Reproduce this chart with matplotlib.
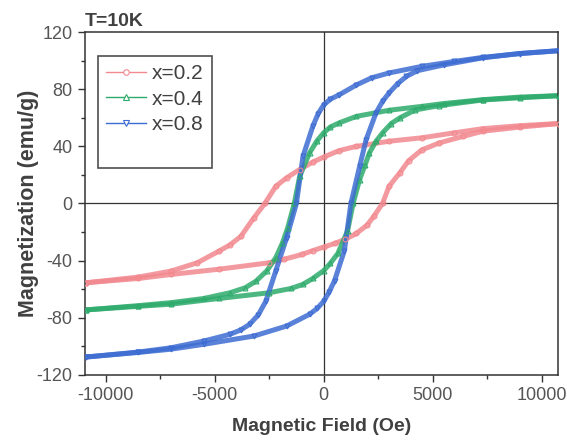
import numpy as np
import matplotlib
matplotlib.use("Agg")
import matplotlib.pyplot as plt
from matplotlib.lines import Line2D
from matplotlib.ticker import MultipleLocator

plt.rcParams['font.family'] = ['Liberation Sans', 'DejaVu Sans']
plt.rcParams['axes.unicode_minus'] = False

# hysteresis loops, field in Oe, magnetization in emu/g
# x=0.2
h_02_down = [10800, 9000, 7300, 6000, 4500, 3000, 1500, 700, 0, -500, -1100, -1700, -2200, -2700, -3200, -3800, -4300, -4800, -5800, -7000, -8500, -10900]
m_02_down = [56, 54.5, 52.4, 49.5, 46, 43.6, 40, 37, 32.5, 29, 23.8, 18, 12, 0, -10, -23, -29, -33.3, -41.5, -47.3, -51.5, -55.5]
h_02_up = [-10900, -8500, -7000, -4800, -2500, -1800, -1000, -500, 0, 500, 1000, 1500, 2000, 2300, 2700, 3000, 3500, 3900, 4500, 5300, 6400, 7300, 9000, 10800]
m_02_up = [-55.5, -52.5, -49.7, -46, -41.5, -39, -35.7, -33, -30.5, -28, -25, -21, -15, -9, 0, 12, 21.6, 30, 37.5, 42.4, 47, 50.6, 53.5, 56]

# x=0.4
h_04_down = [10800, 9000, 7300, 5500, 4500, 3000, 1500, 700, 300, 0, -300, -650, -1100, -1350, -1650, -1900, -2200, -2600, -3100, -3600, -4300, -5500, -7000, -8500, -10900]
m_04_down = [75.5, 74.5, 72.7, 70, 68, 65.3, 61, 56.4, 53.5, 49.5, 44, 35.4, 19, 0, -17, -28, -38, -47, -54.3, -59, -62.5, -66.5, -69.4, -71.5, -74.5]
h_04_up = [-10900, -8500, -7000, -4800, -2500, -1500, -950, -500, 0, 300, 650, 1100, 1350, 1650, 1900, 2100, 2400, 2700, 3100, 3500, 4200, 5300, 7300, 9000, 10800]
m_04_up = [-74.5, -72, -70.5, -66.5, -62.5, -59.5, -56.6, -52.5, -47, -42, -35, -19, 0, 16.8, 27, 35.5, 43.5, 49.4, 56, 60, 65.5, 68.5, 72.5, 74, 75.5]

# x=0.8
h_08_down = [10800, 9000, 7300, 6000, 4500, 3000, 2200, 1500, 700, 300, 0, -250, -500, -950, -1250, -1700, -2200, -2650, -3000, -3400, -3800, -4300, -5500, -7000, -8500, -10900]
m_08_down = [107, 105, 102.3, 99.5, 96, 91.4, 88, 83, 76, 73, 69, 63, 54, 33, 0, -24, -47.3, -68.3, -78, -84.6, -88.5, -91.6, -96.3, -101, -104, -107.5]
h_08_up = [-10900, -8500, -7000, -5500, -3200, -1700, -650, -300, 0, 250, 500, 950, 1250, 1650, 1950, 2400, 2700, 3000, 3400, 3800, 4300, 5500, 7300, 9000, 10800]
m_08_up = [-107.5, -104.3, -102, -98.6, -92.8, -85.8, -77.6, -73.5, -68.5, -62, -54, -33, 0, 26, 44.8, 63.4, 71.5, 77.4, 84, 89, 93, 97, 102, 105, 107]

labels = ['x=0.2', 'x=0.4', 'x=0.8']
colors = ['#f2898f', '#2eab6c', '#3d6cd2']
markers = ['o', '^', 'v']

loops = [
    (h_02_down, m_02_down, h_02_up, m_02_up),
    (h_04_down, m_04_down, h_04_up, m_04_up),
    (h_08_down, m_08_down, h_08_up, m_08_up),
]

fig = plt.figure(figsize=(5.67, 4.40), dpi=100)
ax = fig.add_axes([0.150, 0.148, 0.834, 0.779])

ax.axhline(0, color='#333333', lw=0.9, zorder=1)
ax.axvline(0, color='#333333', lw=0.9, zorder=1)

for (hd, md, hu, mu), c, mk in zip(loops, colors, markers):
    for h, m in [(hd, md), (hu, mu)]:
        ax.plot(h, m, color=c, lw=3.6, alpha=0.85, solid_capstyle='butt',
                solid_joinstyle='round', zorder=2)
        ax.plot(h, m, ls='none', marker=mk, ms=3.5, mfc='none', mec=c, mew=0.8, zorder=3)

ax.set_xlim(-10950, 10750)
ax.set_ylim(-120, 120)
ax.xaxis.set_major_locator(MultipleLocator(5000))
ax.xaxis.set_minor_locator(MultipleLocator(2500))
ax.yaxis.set_major_locator(MultipleLocator(40))
ax.yaxis.set_minor_locator(MultipleLocator(20))
ax.tick_params(which='major', direction='out', length=5, width=1, colors='#333333',
               labelcolor='#555555', labelsize=13, pad=4)
ax.tick_params(which='minor', direction='out', length=3, width=1, colors='#333333')
for s in ax.spines.values():
    s.set_color('#333333')
    s.set_linewidth(1.1)

ax.set_xlabel('Magnetic Field (Oe)', fontsize=14, fontweight='bold', color='#404040', labelpad=10)
ax.set_ylabel('Magnetization (emu/g)', fontsize=15.5, fontweight='bold', color='#404040', labelpad=-2)
ax.text(0.0, 1.005, 'T=10K', transform=ax.transAxes, ha='left', va='bottom',
        fontsize=14, fontweight='bold', color='#404040')

handles = [Line2D([], [], color=c, lw=1, marker=mk, ms=4, mfc='white', mec=c, mew=0.8)
           for c, mk in zip(colors, markers)]
handles.append(Line2D([], [], ls='none'))
leg = ax.legend(handles, labels + [' '], loc='upper left', bbox_to_anchor=(0.027, 0.93),
                fontsize=15, frameon=True, fancybox=False, edgecolor='#222222',
                handlelength=1.9, handletextpad=0.3, labelspacing=0.3, borderpad=0.4,
                borderaxespad=0)
leg.get_frame().set_linewidth(1.2)
for t in leg.get_texts():
    t.set_color('#404040')

fig.savefig('out.png', dpi=100)
